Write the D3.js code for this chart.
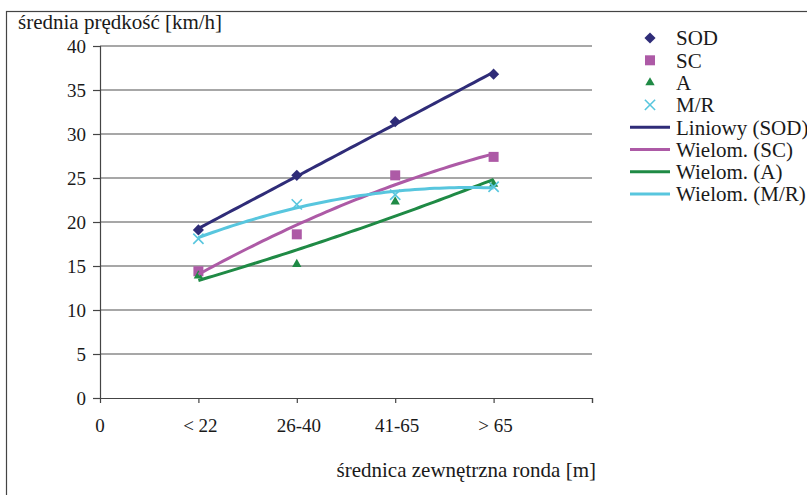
<!DOCTYPE html>
<html>
<head>
<meta charset="utf-8">
<script src="https://cdn.jsdelivr.net/npm/d3@7"></script>
<style>
  body { margin: 0; background: #fff; }
  svg text { font-family: 'Liberation Serif', 'Times New Roman', Times, serif; fill: #1a1a1a; }
</style>
</head>
<body>
<svg width="807" height="495" font-family="Liberation Serif"></svg>
<script>
var categories = ["< 22", "26-40", "41-65", "> 65"];
var catX = [1, 2, 3, 4];
var yTicks = [0, 5, 10, 15, 20, 25, 30, 35, 40];

var sod = [19.1, 25.3, 31.4, 36.8];
var sc = [14.4, 18.6, 25.3, 27.4];
var aa = [13.9, 15.2, 22.3, 24.3];
var mr = [18.1, 22.0, 23.1, 24.0];

var series = [
  {name: "SOD", values: sod, color: "#2f2c78", symbol: "diamond", trend: "Liniowy (SOD)", order: 1},
  {name: "SC", values: sc, color: "#ad5aa6", symbol: "square", trend: "Wielom. (SC)", order: 2},
  {name: "A", values: aa, color: "#1f8a45", symbol: "triangle", trend: "Wielom. (A)", order: 2},
  {name: "M/R", values: mr, color: "#58c6de", symbol: "x", trend: "Wielom. (M/R)", order: 2}
];

var svg = d3.select("svg");

// chart frame
svg.append("rect")
    .attr("x", 6.5).attr("y", 11.5)
    .attr("width", 900).attr("height", 600)
    .attr("fill", "none").attr("stroke", "#444").attr("stroke-width", 1.2);

var x = d3.scaleLinear().domain([0, 5]).range([100, 592]);
var y = d3.scaleLinear().domain([0, 40]).range([398, 46]);

// gridlines
svg.append("g")
  .selectAll("line")
  .data(yTicks.filter(function(d) { return d > 0; }))
  .enter().append("line")
    .attr("x1", x(0)).attr("x2", x(5))
    .attr("y1", function(d) { return y(d); })
    .attr("y2", function(d) { return y(d); })
    .attr("stroke", "#8a8a8a").attr("stroke-width", 1.6);

// y axis
var yAxis = svg.append("g")
    .attr("transform", "translate(" + x(0) + ",0)")
    .call(d3.axisLeft(y).tickValues(yTicks).tickSize(7).tickPadding(7));
yAxis.attr("font-family", null);
yAxis.selectAll("text").attr("font-size", 19).attr("fill", "#1a1a1a");

// x axis
var xAxis = svg.append("g")
    .attr("transform", "translate(0," + y(0) + ")")
    .call(d3.axisBottom(x).tickValues([0, 1, 2, 3, 4, 5]).tickSize(5).tickFormat(""));
svg.selectAll(".domain, .tick line").attr("stroke", "#444").attr("stroke-width", 1.2);
xAxis.selectAll(".tick").filter(function(d) { return d === 0; }).select("line").remove();

svg.append("text")
    .attr("x", x(0)).attr("y", 432)
    .attr("text-anchor", "middle").attr("font-size", 19)
    .text("0");

svg.append("g")
  .selectAll("text")
  .data(categories)
  .enter().append("text")
    .attr("x", function(d, i) { return x(catX[i]) + 2; })
    .attr("y", 432)
    .attr("text-anchor", "middle").attr("font-size", 19)
    .text(function(d) { return d; });

// titles
svg.append("text")
    .attr("x", 18).attr("y", 29)
    .attr("font-size", 21)
    .text("średnia prędkość [km/h]");

svg.append("text")
    .attr("x", 596).attr("y", 477)
    .attr("text-anchor", "end").attr("font-size", 21)
    .text("średnica zewnętrzna ronda [m]");

function symbolPath(type) {
  if (type === "diamond") return d3.symbol(d3.symbolSquare, 62)();
  if (type === "square") return d3.symbol(d3.symbolSquare, 100)();
  if (type === "triangle") return d3.symbol(d3.symbolTriangle, 38)();
  return d3.symbol(d3.symbolX, 70)();
}

function drawMarker(g, s, cx, cy) {
  var p = g.append("path")
      .attr("d", symbolPath(s.symbol))
      .attr("transform", "translate(" + cx + "," + cy + ")" + (s.symbol === "diamond" ? " rotate(45)" : ""));
  if (s.symbol === "x") p.attr("fill", "none").attr("stroke", s.color).attr("stroke-width", 1.6);
  else p.attr("fill", s.color);
}

// least-squares polynomial fit
function polyfit(xs, ys, order) {
  var n = order + 1, A = [], b = [];
  for (var r = 0; r < n; r++) {
    A.push([]);
    b.push(d3.sum(xs, function(xv, k) { return ys[k] * Math.pow(xv, r); }));
    for (var c = 0; c < n; c++) A[r].push(d3.sum(xs, function(xv) { return Math.pow(xv, r + c); }));
  }
  for (var i = 0; i < n; i++) {
    for (var j = i + 1; j < n; j++) {
      var f = A[j][i] / A[i][i];
      for (var k = i; k < n; k++) A[j][k] -= f * A[i][k];
      b[j] -= f * b[i];
    }
  }
  var coef = new Array(n);
  for (var i2 = n - 1; i2 >= 0; i2--) {
    var s = b[i2];
    for (var k2 = i2 + 1; k2 < n; k2++) s -= A[i2][k2] * coef[k2];
    coef[i2] = s / A[i2][i2];
  }
  return function(xv) { return d3.sum(coef, function(cf, p) { return cf * Math.pow(xv, p); }); };
}

// markers
var markers = svg.append("g");
series.forEach(function(s) {
  s.values.forEach(function(v, i) { drawMarker(markers, s, x(catX[i]), y(v)); });
});

// trendlines
var line = d3.line().x(function(d) { return x(d[0]); }).y(function(d) { return y(d[1]); });
series.forEach(function(s) {
  var f = polyfit(catX, s.values, s.order);
  var pts = d3.range(1, 4.0001, 0.05).map(function(t) { return [t, f(t)]; });
  svg.append("path")
      .attr("d", line(pts))
      .attr("fill", "none").attr("stroke", s.color).attr("stroke-width", 3);
});

// legend
var legend = svg.append("g");
var rowY = function(i) { return 38 + i * 22.3; };
series.forEach(function(s, i) {
  drawMarker(legend, s, 650, rowY(i));
  legend.append("text").attr("x", 676).attr("y", rowY(i)).attr("dy", "0.35em")
      .attr("font-size", 21).text(s.name);
});
series.forEach(function(s, i) {
  var yy = rowY(i + 4);
  legend.append("line").attr("x1", 630).attr("x2", 670).attr("y1", yy).attr("y2", yy)
      .attr("stroke", s.color).attr("stroke-width", 3);
  legend.append("text").attr("x", 676).attr("y", yy).attr("dy", "0.35em")
      .attr("font-size", 21).text(s.trend);
});
</script>
</body>
</html>
